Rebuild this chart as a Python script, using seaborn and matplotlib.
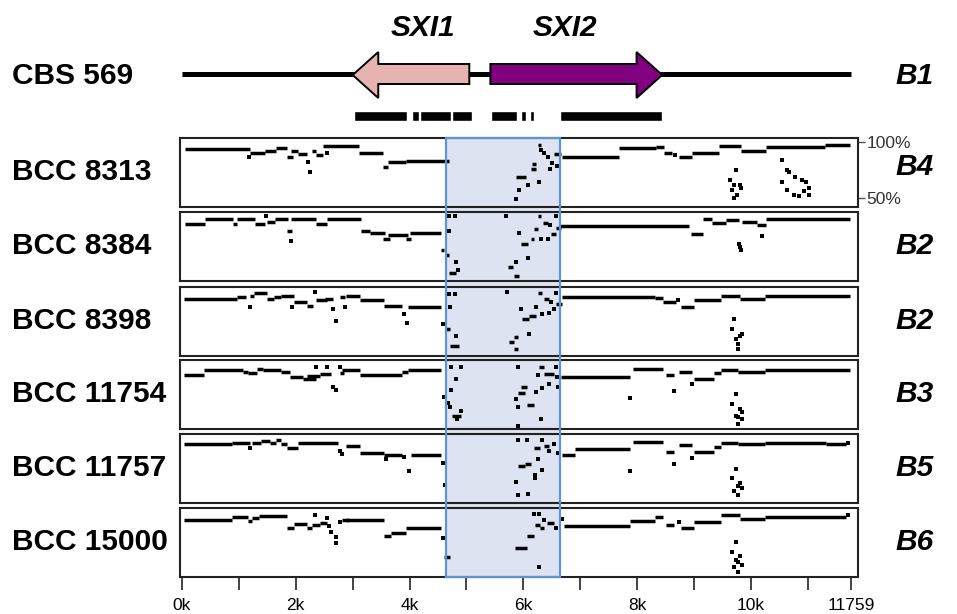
import matplotlib
matplotlib.use("Agg")
import matplotlib.pyplot as plt
from matplotlib.patches import Polygon, Rectangle
import seaborn as sns
import pandas as pd

sns.set_style("white")
plt.rcParams['font.family'] = ['Liberation Sans', 'DejaVu Sans']
plt.rcParams['text.color'] = 'black'

genome_len = 11759
ref_name = "CBS 569"
ref_group = "B1"
strains = ["BCC 8313", "BCC 8384", "BCC 8398", "BCC 11754", "BCC 11757", "BCC 15000"]
groups = ["B4", "B2", "B2", "B3", "B5", "B6"]

# genes on the reference, kb (start, end)
sxi1 = (3.00, 5.05)   # minus strand
sxi2 = (5.42, 8.44)   # plus strand
head_kb = 0.45
# exon blocks under the genes, kb (start, width)
exons = [(3.02, 0.93), (4.04, 0.12), (4.19, 0.53), (4.75, 0.34),
         (5.44, 0.45), (5.95, 0.10), (6.12, 0.07), (6.65, 1.79)]
# shaded region, kb
region = (4.64, 6.64)

tick_pos = [0, 1000, 2000, 3000, 4000, 5000, 6000, 7000, 8000, 9000, 10000, 11000, 11759]
tick_lab = ["0k", "", "2k", "", "4k", "", "6k", "", "8k", "", "10k", "", "11759"]

# identity segments (start kb, end kb, % identity) and single hits (kb, %)
seg_8313 = [(0.05,1.19,93.8),(1.19,1.46,90.8),(1.46,1.66,92.6),(1.66,1.84,94.7),(1.84,1.95,86.6),
            (1.92,2.04,92.3),(2.04,2.19,89.3),(2.28,2.36,92.6),(2.36,2.48,88.7),(2.48,3.12,97.1),
            (3.12,3.53,90.8),(3.53,3.62,78.3),(3.62,3.94,82.2),(3.94,4.70,83.4),
            (5.87,6.05,69.4),(6.13,6.22,75.9),(6.16,6.22,80.7),(6.25,6.31,97.7),(6.54,6.66,89.6),
            (6.68,7.68,86.6),(7.68,8.33,94.7),(8.33,8.48,96.2),(8.48,8.62,90.2),(8.74,8.97,87.2),
            (8.97,9.44,90.8),(9.44,9.82,96.8),(9.82,10.26,92.6),(10.26,11.31,96.2),(11.31,11.75,97.7)]
pts_8313 = [(1.18,86.6),(2.22,82.8),(2.25,73.8),(2.54,90.2),(5.87,49.1),(5.92,57.5),(6.09,61.9),
            (6.28,64.9),(6.31,93.2),(6.37,90.8),(6.46,75.9),(6.50,81.3),(6.43,86.6),(6.60,78.9),
            (8.66,88.7),(9.73,75.3),(9.64,66.4),(9.70,62.0),(9.80,62.0),(9.67,57.5),(9.76,53.0),
            (9.82,59.0),(9.70,50.0),(10.55,84.3),(10.64,75.3),(10.67,73.0),(10.55,64.9),(10.64,57.5),
            (10.75,53.0),(10.90,66.4),(10.96,64.9),(10.84,51.5),(10.93,56.0),(11.02,53.0),
            (11.02,59.0),(10.78,69.4)]

seg_8384 = [(0.05,0.40,93.0),(0.40,0.90,97.3),(0.90,0.96,93.6),(0.96,1.28,97.3),(1.28,1.46,93.0),
            (1.49,1.63,95.2),(1.63,1.87,97.3),(1.84,1.94,87.3),(1.92,2.36,97.3),(2.36,2.54,93.0),
            (2.54,3.15,97.3),(3.15,3.30,87.3),(3.30,3.56,84.8),(3.53,3.65,79.5),(3.62,3.97,83.6),
            (3.94,4.03,79.5),(4.00,4.56,85.2),(4.56,4.61,70.1),(4.64,4.70,65.4),(4.70,4.82,49.2),
            (5.73,5.82,54.5),(5.84,5.93,46.1),(5.96,6.08,75.5),(6.13,6.19,79.5),(6.19,6.25,88.3),
            (6.25,6.31,100.5),(6.34,6.43,94.5),(6.49,6.57,84.2),(6.57,6.66,89.8),
            (6.63,8.91,91.1),(8.94,9.15,84.2),(9.15,9.32,97.3),(9.32,9.56,94.2),(9.56,9.79,96.7),
            (9.85,10.11,95.1),(10.11,10.26,92.0),(10.26,11.75,97.3)]
pts_8384 = [(1.47,100.8),(1.92,78.0),(4.69,87.3),(4.81,59.2),(4.85,52.3),(4.70,100.5),(4.79,100.5),
            (5.70,100.5),(5.87,59.2),(5.93,85.2),(6.09,62.9),(6.31,79.5),(6.43,79.5),(6.46,92.0),
            (6.57,100.5),(10.20,82.6),(9.79,74.8),(9.82,70.1),(9.80,72.4)]

seg_8398 = [(0.03,0.96,93.1),(0.96,1.12,94.6),(1.19,1.27,96.1),(1.27,1.50,98.2),(1.50,1.62,93.1),
            (1.62,1.74,94.6),(1.74,1.97,96.1),(1.97,2.20,90.1),(2.20,2.31,87.1),(2.35,2.55,92.2),
            (2.51,2.66,93.1),(2.78,2.86,94.6),(2.89,3.13,96.1),(3.13,3.55,92.2),(3.55,3.86,87.1),
            (3.98,4.56,85.6),(4.63,4.71,66.1),(4.71,4.87,51.1),
            (5.74,5.83,55.0),(5.83,5.91,59.5),(5.83,5.91,48.1),(5.97,6.10,75.1),(6.10,6.22,78.1),
            (6.26,6.33,98.2),(6.36,6.45,93.1),(6.57,6.68,88.6),
            (6.68,8.31,94.6),(8.31,8.46,94.0),(8.46,8.69,90.1),(8.77,9.00,85.6),(9.00,9.47,92.2),
            (9.47,9.81,96.1),(9.81,10.24,93.1),(10.24,11.75,96.1)]
pts_8398 = [(1.19,85.6),(1.93,85.6),(2.34,99.1),(2.66,84.1),(2.70,73.6),(2.86,85.6),(3.90,79.6),
            (3.96,72.1),(4.58,71.2),(4.69,97.6),(4.79,97.6),(4.71,85.6),(4.81,60.1),(5.72,99.1),
            (5.95,84.1),(6.10,61.6),(6.22,85.6),(6.33,79.6),(6.45,80.2),(6.49,90.1),(6.54,84.1),
            (6.57,98.2),(8.72,92.2),(9.71,75.1),(9.66,66.1),(9.81,60.1),(9.74,57.1),(9.77,52.6),
            (9.85,61.6),(9.77,48.1)]

seg_11754 = [(0.03,0.38,90.1),(0.38,1.08,94.6),(1.08,1.16,93.1),(1.16,1.31,92.2),(1.31,1.43,96.1),
             (1.43,1.74,95.2),(1.74,1.89,93.1),(1.89,2.12,88.6),(2.12,2.35,87.1),(2.20,2.43,89.6),
             (2.43,2.62,91.6),(2.78,2.85,92.2),(2.82,3.13,94.6),(3.13,3.86,90.1),(3.86,3.98,93.1),
             (3.98,4.56,94.6),(4.75,4.90,54.1),
             (5.95,6.06,79.6),(5.91,6.03,74.2),(6.06,6.18,64.0),(6.28,6.36,97.6),(6.37,6.53,91.0),
             (6.67,7.88,88.6),(7.92,8.46,96.1),(8.50,8.65,90.1),(8.73,8.96,93.1),(9.00,9.35,87.1),
             (9.35,9.47,92.2),(9.47,9.77,94.6),(9.77,10.24,93.1),(10.24,11.75,94.6)]
pts_11754 = [(2.35,97.6),(2.55,97.6),(2.66,79.6),(2.70,76.6),(2.78,97.6),(4.60,71.2),(4.67,65.2),
             (4.71,61.6),(4.73,97.6),(4.90,97.6),(4.81,87.1),(4.73,76.6),(4.90,58.0),(4.83,51.1),
             (5.91,97.6),(5.87,69.1),(5.91,61.6),(5.91,45.1),(6.22,75.1),(6.31,51.1),(6.33,79.0),
             (6.26,90.1),(6.45,82.0),(6.57,97.6),(6.59,88.6),(6.61,79.6),(7.88,70.0),(8.65,76.0),
             (8.96,82.6),(9.74,73.6),(9.66,64.6),(9.81,60.1),(9.85,57.1),(9.74,54.1),(9.77,52.6),
             (9.85,51.1),(9.77,46.6)]

seg_11757 = [(0.03,0.88,94.6),(0.88,1.19,96.1),(1.23,1.39,96.1),(1.39,1.54,97.6),(1.54,1.66,96.1),
             (1.66,1.74,98.2),(1.74,1.85,94.6),(1.85,2.04,91.0),(2.04,2.74,96.1),(2.89,3.13,93.1),
             (3.13,3.55,87.1),(3.55,3.86,85.0),(4.02,4.56,85.0),
             (5.91,6.03,75.1),(6.03,6.14,76.6),(6.18,6.30,91.6),(6.37,6.45,93.1),(6.68,6.91,85.0),
             (6.91,7.88,90.1),(7.92,8.46,97.0),(8.50,8.65,88.0),(8.73,8.96,94.0),(9.00,9.35,88.0),
             (9.35,9.47,92.5),(9.47,9.77,96.1),(9.77,10.24,94.6),(10.24,11.32,96.1),(11.32,11.67,94.6)]
pts_11757 = [(1.19,91.6),(2.78,88.6),(2.82,85.6),(3.59,81.1),(3.90,83.2),(3.99,70.6),(4.58,78.1),
             (4.63,58.0),(5.91,98.2),(6.06,98.2),(5.87,61.0),(6.20,67.6),(6.21,64.6),(5.91,49.0),
             (6.08,50.2),(6.26,81.1),(6.33,72.1),(6.33,98.2),(6.45,88.6),(6.53,95.2),(6.61,87.1),
             (7.88,70.6),(8.65,76.6),(8.96,82.6),(11.70,96.1),(9.74,73.0),(9.66,64.6),(9.81,60.1),
             (9.85,55.6),(9.77,57.1),(9.71,52.6),(9.77,49.6)]

seg_15000 = [(0.03,0.88,93.3),(0.88,1.16,95.5),(1.16,1.23,92.4),(1.23,1.35,94.9),(1.35,1.85,96.4),
             (1.85,1.97,86.2),(1.97,2.20,89.3),(2.20,2.28,86.2),(2.28,2.43,88.7),(2.43,2.55,90.2),
             (2.82,2.93,93.3),(2.89,3.55,93.3),(3.55,3.67,78.7),(3.67,3.94,81.8),(3.94,4.56,86.2),
             (4.61,4.71,60.1),
             (5.85,6.06,68.4),(6.06,6.18,78.7),(6.20,6.30,88.7),(6.30,6.37,86.2),(6.41,6.53,90.2),
             (6.72,7.88,88.0),(7.88,8.31,92.4),(8.31,8.46,95.5),(8.50,8.65,88.7),(8.77,9.00,86.2),
             (9.00,9.47,91.8),(9.47,9.81,97.4),(9.81,10.24,94.3),(10.24,11.67,95.5)]
pts_15000 = [(2.34,98.0),(2.55,94.9),(2.59,88.0),(2.62,82.4),(2.70,77.8),(2.70,72.5),(2.78,91.2),
             (4.58,76.9),(6.18,98.6),(6.28,98.6),(6.28,51.4),(6.37,93.3),(6.57,86.2),(6.68,94.3),
             (8.73,91.2),(11.70,97.4),(9.74,73.7),(9.66,64.4),(9.81,60.7),(9.74,57.6),(9.77,55.2),
             (9.85,52.9),(9.71,51.4),(9.77,46.7)]

segments = [seg_8313, seg_8384, seg_8398, seg_11754, seg_11757, seg_15000]
points = [pts_8313, pts_8384, pts_8398, pts_11754, pts_11757, pts_15000]

W, H = 957, 614
fig = plt.figure(figsize=(W / 100, H / 100), dpi=100)

def px_axes(x0, y0, x1, y1):
    # axes placed in pixel units measured from the top-left corner
    return fig.add_axes([x0 / W, 1 - y1 / H, (x1 - x0) / W, (y1 - y0) / H])

xlim = (-35, 11882)
ylim = (42, 104)
fill_col = "#dde3f1"
edge_col = "#5f93d9"
lab_size = 21.5

# gene track
top = px_axes(180, 0, 858, 135)
top.set_xlim(*xlim)
top.set_ylim(135, 0)
top.axis("off")
top.hlines(74, 0, genome_len, color="black", lw=3.6)
s, e = sxi1[0] * 1000, sxi1[1] * 1000
hb = s + head_kb * 1000
top.add_patch(Polygon([(e, 64), (hb, 64), (hb, 52), (s, 75), (hb, 98), (hb, 84), (e, 84)],
                      closed=True, facecolor="#e7b3b1", edgecolor="black", lw=1.4, zorder=3))
s, e = sxi2[0] * 1000, sxi2[1] * 1000
hb = e - head_kb * 1000
top.add_patch(Polygon([(s, 64), (hb, 64), (hb, 52), (e, 75), (hb, 98), (hb, 84), (s, 84)],
                      closed=True, facecolor="#800080", edgecolor="black", lw=1.4, zorder=3))
top.broken_barh([(a * 1000, w * 1000) for a, w in exons], (111, 10), facecolors="black")
top.text(sum(sxi1) / 2 * 1000 + 210, 28, "SXI1", ha="center", va="center",
         fontsize=lab_size, fontweight="bold", fontstyle="italic")
top.text(sum(sxi2) / 2 * 1000 - 200, 28, "SXI2", ha="center", va="center",
         fontsize=lab_size, fontweight="bold", fontstyle="italic")

fig.text(12 / W, 1 - 76 / H, ref_name, ha="left", va="center", fontsize=lab_size, fontweight="bold")
fig.text(895 / W, 1 - 76 / H, ref_group, ha="left", va="center", fontsize=lab_size,
         fontweight="bold", fontstyle="italic")

# shaded region behind the panels
bg = px_axes(180, 138, 858, 577)
bg.set_xlim(*xlim)
bg.set_ylim(0, 1)
bg.axis("off")
bg.set_zorder(0)
bg.axvspan(region[0] * 1000, region[1] * 1000, color=fill_col, lw=0)

panel_tops = [138, 212, 287, 360, 434, 508]
for i, name in enumerate(strains):
    t = panel_tops[i]
    ax = px_axes(180, t, 858, t + 69)
    ax.set_zorder(1)
    ax.patch.set_alpha(0)
    ax.set_xlim(*xlim)
    ax.set_ylim(*ylim)
    for sp in ax.spines.values():
        sp.set_color("#222222")
        sp.set_linewidth(1.5)
    seg = pd.DataFrame(segments[i], columns=["start", "end", "ident"])
    ax.hlines(seg["ident"], seg["start"] * 1000, seg["end"] * 1000, color="black", lw=2.5)
    pts = pd.DataFrame(points[i], columns=["pos", "ident"])
    pts["pos"] = pts["pos"] * 1000
    sns.scatterplot(data=pts, x="pos", y="ident", ax=ax, color="black", marker="s",
                    s=8, linewidth=0, legend=False)
    ax.set_xlabel("")
    ax.set_ylabel("")
    if i == 0:
        ax.yaxis.tick_right()
        ax.set_yticks([100, 50])
        ax.set_yticklabels(["100%", "50%"])
        ax.tick_params(axis="y", right=True, length=5, width=1, color="#555555",
                       labelsize=12.5, labelcolor="#333333", pad=1)
    else:
        ax.set_yticks([])
    if i == len(strains) - 1:
        ax.set_xticks(tick_pos)
        ax.set_xticklabels(tick_lab)
        ax.tick_params(axis="x", bottom=True, length=9, width=1.2, color="#222222",
                       labelsize=12.5, labelcolor="black", pad=6)
    else:
        ax.set_xticks([])
    yc = t + 34 if i > 0 else t + 29
    fig.text(12 / W, 1 - (t + 34) / H, name, ha="left", va="center", fontsize=lab_size,
             fontweight="bold")
    fig.text(895 / W, 1 - yc / H, groups[i], ha="left", va="center", fontsize=lab_size,
             fontweight="bold", fontstyle="italic")

# outline of the shaded region on top
ov = px_axes(180, 138, 858, 577)
ov.set_xlim(*xlim)
ov.set_ylim(0, 1)
ov.axis("off")
ov.set_zorder(2)
ov.add_patch(Rectangle((region[0] * 1000, 0), (region[1] - region[0]) * 1000, 1,
                       facecolor="none", edgecolor=edge_col, lw=1.6, clip_on=False))

fig.savefig("out.png", dpi=100)
